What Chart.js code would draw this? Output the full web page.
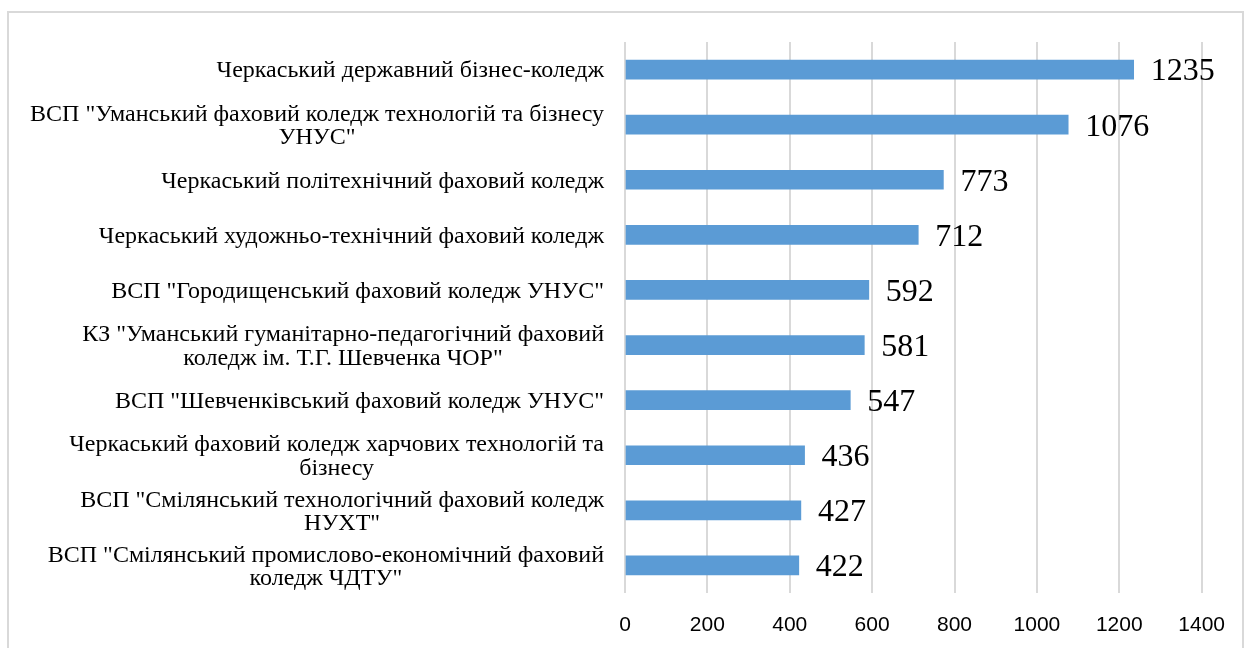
<!DOCTYPE html>
<html>
<head>
<meta charset="utf-8">
<script src="https://cdn.jsdelivr.net/npm/chart.js@4.4.1/dist/chart.umd.min.js"></script>
<style>
  body { margin: 0; background: #fff; }
  #wrap { width: 1245px; height: 648px; }
</style>
</head>
<body>
<div id="wrap"><canvas id="chart" width="1245" height="648"></canvas></div>
<script>
// категорії (рядки підпису)
var colleges = [
	["Черкаський державний бізнес-коледж"],
	["ВСП \"Уманський фаховий коледж технологій та бізнесу", "УНУС\""],
	["Черкаський політехнічний фаховий коледж"],
	["Черкаський художньо-технічний фаховий коледж"],
	["ВСП \"Городищенський фаховий коледж УНУС\""],
	["КЗ \"Уманський гуманітарно-педагогічний фаховий", "коледж ім. Т.Г. Шевченка ЧОР\""],
	["ВСП \"Шевченківський фаховий коледж УНУС\""],
	["Черкаський фаховий коледж харчових технологій та", "бізнесу"],
	["ВСП \"Смілянський технологічний фаховий коледж", "НУХТ\""],
	["ВСП \"Смілянський промислово-економічний фаховий", "коледж ЧДТУ\""]
];
var students = [1235, 1076, 773, 712, 592, 581, 547, 436, 427, 422];
var xTicks = [0, 200, 400, 600, 800, 1000, 1200, 1400];

var serif = '"Liberation Serif", "Times New Roman", serif';

//рамка навколо діаграми
var framePlugin = {
	id: 'frame',
	beforeDraw: function(chart) {
		var ctx = chart.ctx;
		ctx.save();
		ctx.strokeStyle = '#d9d9d9';
		ctx.lineWidth = 2;
		ctx.strokeRect(8, 12, 1235, 660);
		ctx.restore();
	}
};

//підписи категорій ліворуч: блок вирівняний праворуч, рядки по центру
var categoryPlugin = {
	id: 'categoryLabels',
	afterDraw: function(chart) {
		var ctx = chart.ctx;
		var yScale = chart.scales.y;
		var right = chart.chartArea.left - 21;
		var size = 24, lh = 23.5;
		ctx.save();
		ctx.font = size + 'px ' + serif;
		ctx.fillStyle = '#000';
		ctx.textAlign = 'center';
		ctx.textBaseline = 'alphabetic';
		colleges.forEach(function(lines, i) {
			var w = 0;
			lines.forEach(function(l) { w = Math.max(w, ctx.measureText(l).width); });
			var cx = right - w / 2;
			var cy = yScale.getPixelForValue(i);
			var y0 = cy - (lines.length - 1) * lh / 2;
			lines.forEach(function(l, k) {
				ctx.fillText(l, cx, y0 + k * lh + size * 0.33);
			});
		});
		ctx.restore();
	}
};

//значення праворуч від стовпців
var valuePlugin = {
	id: 'barValues',
	afterDatasetsDraw: function(chart) {
		var ctx = chart.ctx;
		var meta = chart.getDatasetMeta(0);
		var size = 32;
		ctx.save();
		ctx.font = size + 'px ' + serif;
		ctx.fillStyle = '#000';
		ctx.textAlign = 'left';
		ctx.textBaseline = 'alphabetic';
		meta.data.forEach(function(bar, i) {
			ctx.fillText(String(students[i]), bar.x + 17, bar.y + size * 0.34);
		});
		ctx.restore();
	}
};

new Chart(document.getElementById('chart'), {
	type: 'bar',
	data: {
		labels: colleges.map(function(l) { return l.join(' '); }),
		datasets: [{
			data: students,
			backgroundColor: '#5b9bd5',
			borderWidth: 0,
			barThickness: 19
		}]
	},
	options: {
		indexAxis: 'y',
		responsive: false,
		animation: false,
		layout: { padding: { left: 625, right: 43, top: 42, bottom: 11 } },
		plugins: {
			legend: { display: false },
			tooltip: { enabled: false }
		},
		scales: {
			x: {
				min: xTicks[0],
				max: xTicks[xTicks.length - 1],
				afterBuildTicks: function(scale) {
					scale.ticks = xTicks.map(function(v) { return { value: v }; });
				},
				afterFit: function(scale) {
					scale.height = 44;
				},
				grid: { color: '#d9d9d9', lineWidth: 2, drawTicks: false },
				border: { display: false },
				ticks: {
					padding: 20,
					color: '#000',
					maxRotation: 0,
					callback: function(v) { return String(v); },
					font: { family: '"Liberation Sans", Arial, sans-serif', size: 21 }
				}
			},
			y: {
				display: false
			}
		}
	},
	plugins: [framePlugin, categoryPlugin, valuePlugin]
});
</script>
</body>
</html>
